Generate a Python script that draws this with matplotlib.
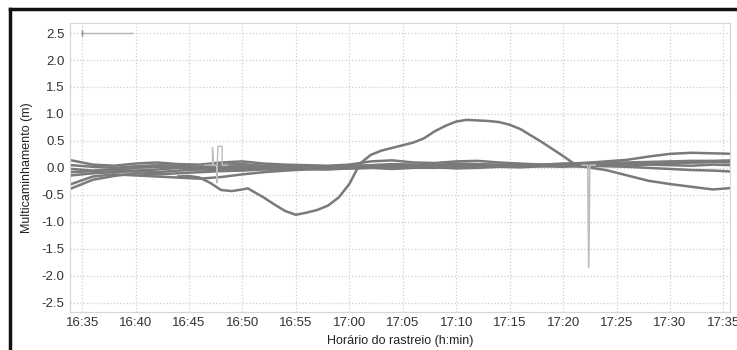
import matplotlib
matplotlib.use("Agg")
import matplotlib.pyplot as plt
from matplotlib.lines import Line2D

plt.rcParams['font.family'] = ['Liberation Sans', 'DejaVu Sans']

# tempo em minutos a partir das 16:00
t_grade = [34, 36, 38, 40, 42, 44, 46, 48, 50, 52, 54, 56, 58, 60, 62, 64,
           66, 68, 70, 72, 74, 76, 78, 80, 82, 84, 86, 88, 90, 92, 94, 96]

sat1 = [0.14, 0.06, 0.04, 0.08, 0.10, 0.07, 0.06, 0.10, 0.12, 0.08, 0.06, 0.05, 0.04, 0.06, 0.12, 0.14,
        0.10, 0.09, 0.12, 0.13, 0.10, 0.08, 0.06, 0.07, 0.09, 0.12, 0.15, 0.21, 0.26, 0.28, 0.27, 0.26]
sat2 = [0.05, 0.02, 0.00, 0.03, 0.05, 0.04, 0.02, 0.06, 0.07, 0.04, 0.03, 0.04, 0.02, 0.04, 0.05, 0.07,
        0.06, 0.05, 0.08, 0.07, 0.06, 0.05, 0.06, 0.08, 0.09, 0.10, 0.10, 0.11, 0.12, 0.13, 0.13, 0.14]
sat3 = [-0.02, -0.05, -0.03, 0.00, 0.02, 0.00, -0.02, 0.02, 0.03, 0.01, 0.00, 0.02, 0.01, 0.02, 0.03, 0.04,
        0.05, 0.03, 0.04, 0.05, 0.04, 0.06, 0.05, 0.06, 0.07, 0.08, 0.07, 0.08, 0.09, 0.10, 0.11, 0.12]
sat4 = [-0.08, -0.06, -0.04, -0.05, -0.03, 0.00, 0.01, -0.01, 0.00, 0.02, 0.01, 0.00, 0.02, 0.03, 0.02, 0.01,
        0.03, 0.04, 0.02, 0.03, 0.05, 0.04, 0.03, 0.05, 0.04, 0.03, 0.02, 0.00, -0.02, -0.04, -0.05, -0.07]
sat5 = [-0.14, -0.10, -0.08, -0.06, -0.08, -0.05, -0.03, -0.04, -0.02, 0.00, 0.02, 0.01, 0.00, 0.01, 0.03, 0.02,
        0.01, 0.02, 0.04, 0.03, 0.02, 0.04, 0.05, 0.06, 0.05, 0.07, 0.08, 0.09, 0.08, 0.10, 0.11, 0.10]
sat6 = [-0.30, -0.16, -0.12, -0.14, -0.16, -0.18, -0.20, -0.17, -0.12, -0.08, -0.05, -0.03, -0.02, -0.01, 0.00, 0.02,
        0.01, 0.00, 0.02, 0.04, 0.05, 0.06, 0.05, 0.04, 0.02, -0.04, -0.14, -0.24, -0.30, -0.35, -0.40, -0.37]
sat7 = [-0.38, -0.22, -0.15, -0.10, -0.12, -0.10, -0.08, -0.06, -0.05, -0.03, -0.04, -0.02, -0.03, -0.01, 0.00, -0.02,
        0.00, 0.01, -0.01, 0.00, 0.02, 0.01, 0.03, 0.02, 0.04, 0.05, 0.04, 0.06, 0.05, 0.04, 0.06, 0.05]
satelites = [sat1, sat2, sat3, sat4, sat5, sat6, sat7]

# satelite com o maior desvio
t_arco = [44, 45, 46, 47, 48, 49, 50, 50.5, 52, 53, 54, 55, 56, 57, 58, 59, 60, 61, 62, 63,
          64, 65, 66, 67, 68, 69, 70, 71, 72, 73, 74, 75, 76, 77, 78, 79, 80, 81, 82]
arco = [-0.16, -0.15, -0.18, -0.28, -0.41, -0.43, -0.40, -0.38, -0.55, -0.68, -0.80, -0.87, -0.83, -0.78, -0.70, -0.55,
        -0.30, 0.08, 0.24, 0.32, 0.37, 0.42, 0.47, 0.55, 0.68, 0.78, 0.86, 0.89, 0.88, 0.87, 0.85, 0.80,
        0.72, 0.60, 0.48, 0.35, 0.22, 0.08, 0.04]

# saltos isolados
t_salto1 = [46.5, 47.2, 47.2, 47.3, 47.6, 47.6, 47.7, 48.1, 48.1, 48.2, 48.6]
salto1 = [0.05, 0.05, 0.38, 0.05, 0.05, -0.28, 0.40, 0.40, 0.05, 0.05, 0.05]
t_salto2 = [81.8, 82.3, 82.4, 82.5, 83.0]
salto2 = [0.05, 0.05, -1.85, 0.05, 0.05]
t_topo = [35, 39.7]
topo = [2.5, 2.5]

ticks_t = [35, 40, 45, 50, 55, 60, 65, 70, 75, 80, 85, 90, 95]
ticks_rotulos = ['16:35', '16:40', '16:45', '16:50', '16:55', '17:00', '17:05',
                 '17:10', '17:15', '17:20', '17:25', '17:30', '17:35']
y_ticks = [2.5, 2.0, 1.5, 1.0, 0.5, 0.0, -0.5, -1.0, -1.5, -2.0, -2.5]

fig = plt.figure(figsize=(7.37, 3.5), dpi=100)
ax = fig.add_axes([0.095, 0.109, 0.896, 0.825])

cinza = '#7a7a7a'
for s in satelites:
    ax.plot(t_grade, s, color=cinza, lw=1.8)
ax.plot(t_arco, arco, color=cinza, lw=1.8)
ax.plot(t_salto1, salto1, color='#bdbdbd', lw=1.0)
ax.plot(t_salto2, salto2, color='#bdbdbd', lw=1.2)
ax.plot(t_topo, topo, color='#b5b5b5', lw=1.0)
ax.plot(t_topo[0], topo[0], marker='|', color='#888888', ms=4)

ax.set_xlim(33.87, 95.65)
ax.set_ylim(-2.67, 2.685)
ax.set_xticks(ticks_t)
ax.set_xticklabels(ticks_rotulos)
ax.set_yticks(y_ticks)
ax.set_yticklabels([f'{v:.1f}' for v in y_ticks])
ax.tick_params(length=0, pad=4, labelsize=9.5, labelcolor='#333333')
ax.grid(True, color='#cfcfcf', ls=':', lw=0.9)
for sp in ax.spines.values():
    sp.set_color('#d5d5d5')

ax.set_xlabel('Horário do rastreio (h:min)', fontsize=9, color='#222222', labelpad=4)
ax.set_ylabel('Multicaminhamento (m)', fontsize=9, color='#222222', labelpad=6)

# moldura escura no topo e na esquerda
fig.add_artist(Line2D([10 / 737, 10 / 737], [0, 1 - 9 / 350], color='#111111', lw=2.5))
fig.add_artist(Line2D([10 / 737, 1], [1 - 9 / 350, 1 - 9 / 350], color='#111111', lw=2.5))

fig.savefig('out.png', dpi=100)
